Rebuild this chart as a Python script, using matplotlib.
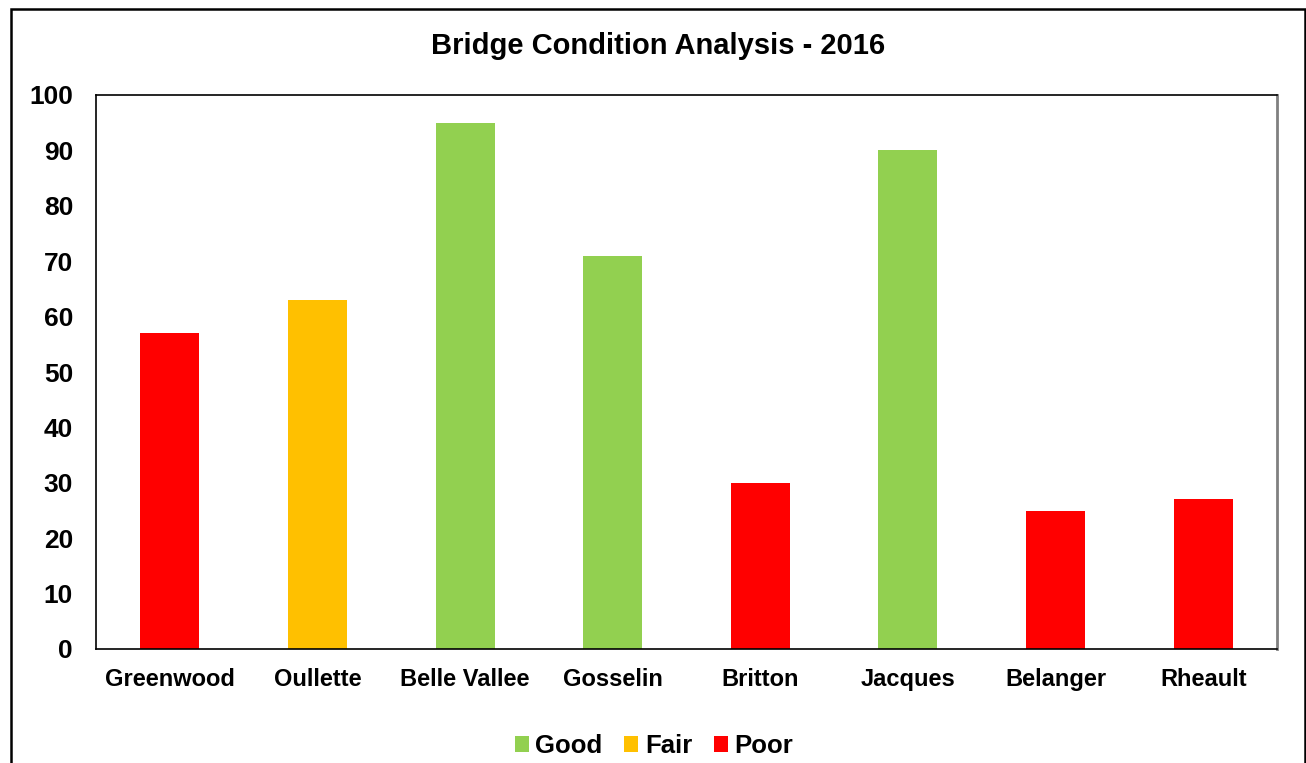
import matplotlib
matplotlib.use("Agg")
import matplotlib.pyplot as plt
from matplotlib.patches import Rectangle, Patch

bridges = ["Greenwood", "Oullette", "Belle Vallee", "Gosselin", "Britton", "Jacques", "Belanger", "Rheault"]
scores = [57, 63, 95, 71, 30, 90, 25, 27]
conditions = ["Poor", "Fair", "Good", "Good", "Poor", "Good", "Poor", "Poor"]
legend_order = ["Good", "Fair", "Poor"]
colors = {"Good": "#92D050", "Fair": "#FFC000", "Poor": "#FF0000"}
yticks = list(range(0, 101, 10))

plt.rcParams['font.family'] = ['Liberation Sans', 'DejaVu Sans']
plt.rcParams['font.weight'] = 'bold'

W, H = 1306, 763
fig = plt.figure(figsize=(W / 100, H / 100), dpi=100)

# outer chart border
fig.patches.append(Rectangle((11 / W, -0.05), (1305 - 11) / W, (H - 9) / H + 0.05,
                             transform=fig.transFigure, fill=False, edgecolor='black',
                             linewidth=1.8))

ax = fig.add_axes([96 / W, 1 - 649 / H, (1277 - 96) / W, (649 - 95) / H])
x = range(len(bridges))
ax.bar(x, scores, width=0.4, color=[colors[c] for c in conditions], zorder=2)
ax.set_xlim(-0.5, len(bridges) - 0.5)
ax.set_ylim(0, 100)
ax.set_yticks(yticks)
ax.set_yticklabels([str(t) for t in yticks], fontsize=19, fontweight='bold')
ax.set_xticks(list(x))
ax.set_xticklabels(bridges, fontsize=17, fontweight='bold')
ax.tick_params(axis='both', length=0)
ax.tick_params(axis='y', pad=16.5)
ax.tick_params(axis='x', pad=14)
for s in ['left', 'top', 'bottom']:
    ax.spines[s].set_color('black')
    ax.spines[s].set_linewidth(1.2)
ax.spines['right'].set_color('#808080')
ax.spines['right'].set_linewidth(2)

fig.text(658 / W, 1 - 46 / H, "Bridge Condition Analysis - 2016", ha='center', va='center',
         fontsize=21, fontweight='bold')

handles = [Patch(facecolor=colors[c], label=c) for c in legend_order]
fig.legend(handles=handles, loc='center', bbox_to_anchor=(654 / W, 1 - 746 / H), ncol=3,
           frameon=False, prop={'size': 18.5, 'weight': 'bold'}, handlelength=0.55,
           handleheight=0.55, handletextpad=0.25, columnspacing=0.85)

fig.savefig("out.png", dpi=100)
